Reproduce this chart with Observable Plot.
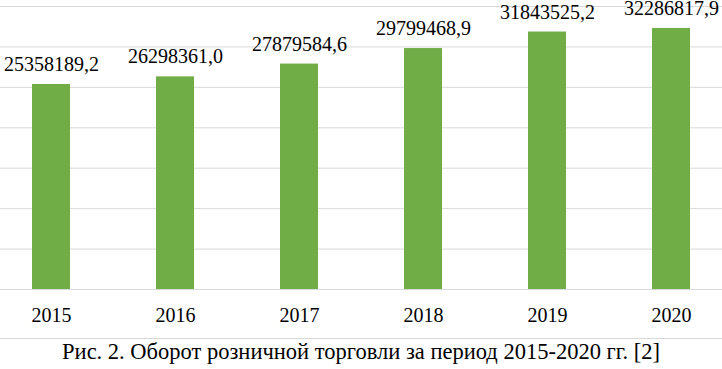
<!DOCTYPE html>
<html>
<head>
<meta charset="utf-8">
<script src="https://cdn.jsdelivr.net/npm/d3@7"></script>
<script src="https://cdn.jsdelivr.net/npm/@observablehq/plot@0.6"></script>
<style>
  html, body { margin: 0; padding: 0; background: #fff; }
  #chart svg { display: block; }
  html body #wrap, html body #wrap *, html body #wrap svg text { font-family: serif !important; }
</style>
</head>
<body>
<div id="wrap" style="width:722px">
  <div id="chart"></div>
  <div id="cap" style="border-top:1px solid #d9d9d9;font-size:22.5px;line-height:25px;text-align:center;color:#000;height:30px;box-sizing:border-box"></div>
</div>
<script>
const years = ["2015", "2016", "2017", "2018", "2019", "2020"];
const turnover = [25358189.2, 26298361.0, 27879584.6, 29799468.9, 31843525.2, 32286817.9];
const gridValues = [0, 5000000, 10000000, 15000000, 20000000, 25000000, 30000000, 35000000];
const captionText = "Рис. 2. Оборот розничной торговли за период 2015-2020 гг. [2]";

const data = years.map((y, i) => ({year: y, value: turnover[i]}));
const fmt = v => v.toFixed(1).replace(".", ",");
const FONT = "serif";

const chart = Plot.plot({
  width: 722,
  height: 338,
  marginLeft: 0,
  marginRight: 0,
  marginTop: 6,
  marginBottom: 49,
  style: {color: "#000", background: "#fff", overflow: "visible"},
  x: {domain: years, paddingInner: 0.69, paddingOuter: 0.24, label: null},
  y: {domain: [0, 35000000], axis: null},
  marks: [
    Plot.ruleY(gridValues, {stroke: "#d9d9d9", strokeWidth: 1}),
    Plot.barY(data, {x: "year", y: "value", fill: "#70ad47"}),
    Plot.text(data, {x: "year", y: "value", text: d => fmt(d.value), lineAnchor: "bottom", dy: -13.5, fontSize: 20, fill: "#000", fontFamily: FONT}),
    Plot.axisX({tickSize: 0, tickPadding: 18, fontSize: 20, fill: "#000", label: null, fontFamily: FONT})
  ]
});
document.getElementById("chart").appendChild(chart);
const cap = document.getElementById("cap");
cap.textContent = captionText;
try { document.fonts.clear(); } catch (e) {}
document.querySelectorAll("style").forEach(st => { if (/@font-face/.test(st.textContent)) st.remove(); });
[chart, ...chart.querySelectorAll("g, text, tspan"), cap, document.getElementById("wrap")].forEach(el =>
  el.style.setProperty("font-family", FONT, "important"));
</script>
</body>
</html>
